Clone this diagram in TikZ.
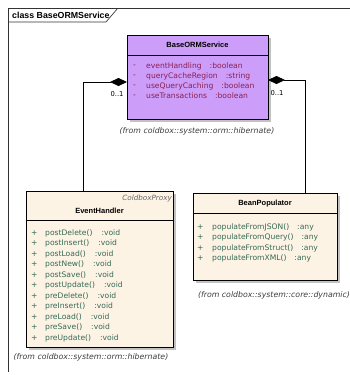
\documentclass[tikz,border=0pt]{standalone}
\usepackage{fontspec}
\setmainfont{DejaVu Sans}
\newfontfamily\hdrfont{Liberation Sans}
\usetikzlibrary{arrows.meta,shadows}
\definecolor{purp}{RGB}{204,158,250}
\definecolor{beige}{RGB}{252,243,229}
\definecolor{attrc}{RGB}{140,30,80}
\definecolor{methc}{RGB}{55,105,85}
\definecolor{fromc}{RGB}{60,60,60}
\begin{document}
\begin{tikzpicture}[x=1pt,y=-1pt,
  box/.style={draw, line width=1pt, anchor=north west, inner sep=0pt,
    drop shadow={shadow xshift=2.5pt, shadow yshift=-2.5pt, fill=black!40, opacity=0.6}},
  hdr/.style={font=\hdrfont\fontsize{7.5}{9}\selectfont\bfseries, inner sep=0pt},
  attr/.style={font=\fontsize{7.6}{9}\selectfont, text=attrc, anchor=west, inner sep=0pt},
  meth/.style={font=\fontsize{7.6}{9}\selectfont, text=methc, anchor=west, inner sep=0pt},
  fromtxt/.style={font=\fontsize{7.8}{9}\selectfont\itshape, text=fromc, inner sep=0pt},
  mult/.style={font=\fontsize{6.8}{9}\selectfont, inner sep=0pt},
  comp/.style={draw, line width=0.8pt, -{Diamond[length=17pt,width=8pt]}},
  sep/.style={line width=0.8pt}
]
\useasboundingbox (0,0) rectangle (350,375);
% frame
\draw[line width=0.7pt, black!80] (8,372) -- (8,8) -- (350,8);
\draw[line width=0.7pt, black!80] (8,22) -- (106,22) -- (118,8);
\node[font=\hdrfont\fontsize{8.8}{10}\selectfont\bfseries, anchor=west, inner sep=0pt] (title) at (12,15) {class BaseORMService};

% BaseORMService
\node[box, fill=purp, minimum width=141pt, minimum height=84pt] (base) at (127,35) {};
\draw[sep] (127,55) -- (268,55);
\node[hdr] (basehdr) at (197.5,45) {BaseORMService};
\node[attr] (a1m) at (133,66) {-};
\node[attr] (a1) at (146,66) {eventHandling\hspace{8pt}:boolean};
\node[attr] (a2m) at (133,76) {-};
\node[attr] (a2) at (146,76) {queryCacheRegion\hspace{8pt}:string};
\node[attr] (a3m) at (133,86) {-};
\node[attr] (a3) at (146,86) {useQueryCaching\hspace{8pt}:boolean};
\node[attr] (a4m) at (133,96) {-};
\node[attr] (a4) at (146,96) {useTransactions\hspace{8pt}:boolean};
\node[fromtxt] (basefrom) at (197,131) {(from coldbox::system::orm::hibernate)};

% EventHandler
\node[box, fill=beige, minimum width=147pt, minimum height=156pt] (eh) at (26,191) {};
\draw[sep] (26,220) -- (173,220);
\node[font=\fontsize{7.2}{9}\selectfont\itshape, text=black!60, anchor=east, inner sep=0pt] (ehst) at (172,199) {ColdboxProxy};
\node[hdr] (ehhdr) at (99.5,211) {EventHandler};
\foreach \n/\t [count=\i from 0] in {postDelete/void,postInsert/void,postLoad/void,postNew/void,postSave/void,postUpdate/void,preDelete/void,preInsert/void,preLoad/void,preSave/void,preUpdate/void}{
  \node[meth] (ehp\i) at (31,233+10.5*\i) {+};
  \node[meth] (ehm\i) at (45,233+10.5*\i) {\n()\hspace{9pt}:\t};
}
\node[fromtxt] (ehfrom) at (91,357) {(from coldbox::system::orm::hibernate)};

% BeanPopulator
\node[box, fill=beige, minimum width=144pt, minimum height=87pt] (bp) at (193,193) {};
\draw[sep] (193,213) -- (337,213);
\node[hdr] (bphdr) at (265,204) {BeanPopulator};
\foreach \n [count=\i from 0] in {populateFromJSON,populateFromQuery,populateFromStruct,populateFromXML}{
  \node[meth] (bpp\i) at (197,227+10.5*\i) {+};
  \node[meth] (bpm\i) at (212,227+10.5*\i) {\n()\hspace{8pt}:any};
}
\node[fromtxt] (bpfrom) at (274,295) {(from coldbox::system::core::dynamic)};

% connectors
\coordinate (bL) at (127,82);
\coordinate (eL) at (83,191);
\coordinate (bR) at (268,80);
\coordinate (eR) at (305,193);
\draw[comp] (eL) |- (bL);
\draw[comp] (eR) |- (bR);
\node[mult] (m1) at (117,94) {0..1};
\node[mult] (m2) at (277,93) {0..1};
\end{tikzpicture}
\end{document}
